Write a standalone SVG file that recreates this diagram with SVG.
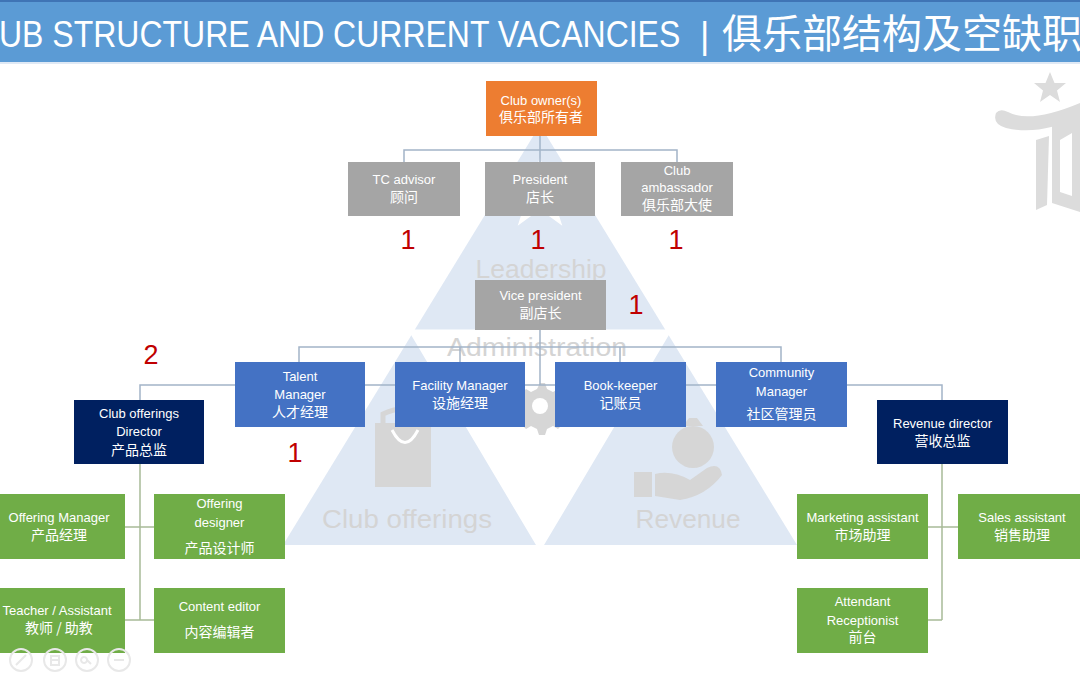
<svg xmlns="http://www.w3.org/2000/svg" width="1080" height="675" viewBox="0 0 1080 675">
<style>
.t{font-family:"Liberation Sans","Noto Sans CJK SC",sans-serif;font-size:13px;fill:#ffffff;text-anchor:middle}
.c{font-family:"Noto Sans CJK SC","Liberation Sans",sans-serif;font-size:14px;fill:#ffffff;text-anchor:middle}
.n{font-family:"Liberation Sans",sans-serif;font-size:27px;fill:#c00000;text-anchor:middle}
.bg{font-family:"Liberation Sans",sans-serif;font-size:26px;fill:#d4d4d4;text-anchor:middle}
.hd{font-family:"Liberation Sans","Noto Sans CJK SC",sans-serif;fill:#ffffff}
.orange{fill:#ed7d31}
.grey{fill:#a5a5a5}
.blue{fill:#4472c4}
.navy{fill:#002060}
.green{fill:#70ad47}
.ln{fill:none;stroke:#a3b4c8;stroke-width:1.5}
.lg{fill:none;stroke:#a8ba98;stroke-width:1.5}
.ic{fill:#d6d6d6}
</style>
<rect width="1080" height="675" fill="#ffffff"/>
<g id="header">
<rect x="0" y="0" width="1080" height="62" fill="#5b9bd5"/>
<rect x="0" y="0" width="1080" height="2" fill="#3f74b5"/>
<rect x="0" y="62" width="1080" height="2" fill="#dfe9f5"/>
<text class="hd" x="-1" y="41" font-size="32" transform="scale(1,1.15)">UB STRUCTURE AND CURRENT VACANCIES</text>
<text class="hd" x="700" y="48" font-size="36">|</text>
<text class="hd" x="722" y="48" font-size="40" style="font-family:'Noto Sans CJK SC',sans-serif">俱乐部结构及空缺职</text>
</g>
<g id="background-pyramid">
<polygon points="540,125 797,545 283,545" fill="#dfe8f4"/>
<polygon points="414,333 666,333 540,545" fill="#ffffff" stroke="#ffffff" stroke-width="7" stroke-linejoin="miter"/>
<polygon points="540,157 548.5,183.3 576.1,183.3 553.8,199.5 562.3,225.7 540,209.5 517.7,225.7 526.2,199.5 503.9,183.3 531.5,183.3" fill="#ffffff"/>
<g class="ic">
<path d="M540,383 l5,0 2,6 6,3 5,-3 4,4 -3,5 2,6 6,2 0,6 -6,2 -2,6 3,5 -4,4 -5,-3 -6,3 -2,6 -6,0 -2,-6 -6,-3 -5,3 -4,-4 3,-5 -2,-6 -6,-2 0,-6 6,-2 2,-6 -3,-5 4,-4 5,3 6,-3 z"/>
</g>
<circle cx="540" cy="406" r="8" fill="#ffffff"/>
<path d="M375,423 L431,423 L431,487 L375,487 Z" class="ic"/>
<path d="M392,430 Q405,455 418,430" fill="none" stroke="#ffffff" stroke-width="3"/>
<path d="M383,423 L383,414 Q403,404 423,414 L423,423" fill="none" stroke="#d6d6d6" stroke-width="5"/>
<circle cx="693" cy="447" r="21" class="ic"/>
<path d="M683,426 L703,426 L697,418 L689,418 Z" class="ic"/>
<path d="M634,472 L652,472 L652,497 L634,497 Z" class="ic"/>
<path d="M655,474 Q672,470 690,480 L707,468 Q720,462 722,475 Q706,496 680,500 L655,496 Z" class="ic"/>
<text class="bg" x="541" y="278" textLength="131" lengthAdjust="spacingAndGlyphs">Leadership</text>
<text class="bg" x="537" y="356" textLength="180" lengthAdjust="spacingAndGlyphs">Administration</text>
<text class="bg" x="407" y="528" textLength="170" lengthAdjust="spacingAndGlyphs">Club offerings</text>
<text class="bg" x="688" y="528" textLength="105" lengthAdjust="spacingAndGlyphs">Revenue</text>
</g>
<g id="connectors">
<path class="ln" d="M540,136 V162 M404,162 V150 H677 V162"/>
<path class="ln" d="M540,330 V385 M299,362 V347 H781 V362 M460,347 V362 M620,347 V362"/>
<path class="ln" d="M140,400 V385 H942 V400"/>
<path class="lg" d="M140,464 V620 M125,527 H154 M125,620 H154"/>
<path class="lg" d="M942,464 V620 M928,527 H958 M928,620 H942"/>
</g>
<g id="club-owners"><rect class="orange" x="486" y="81" width="111" height="55"/><text class="t" x="541" y="104.5">Club owner(s)</text><text class="c" x="541" y="122">俱乐部所有者</text></g>
<g id="tc-advisor"><rect class="grey" x="348" y="162" width="112" height="54"/><text class="t" x="404" y="184">TC advisor</text><text class="c" x="404" y="202">顾问</text></g>
<g id="president"><rect class="grey" x="485" y="162" width="110" height="54"/><text class="t" x="540" y="184">President</text><text class="c" x="540" y="202">店长</text></g>
<g id="club-ambassador"><rect class="grey" x="621" y="162" width="112" height="54"/><text class="t" x="677" y="175">Club</text><text class="t" x="677" y="192">ambassador</text><text class="c" x="677" y="210">俱乐部大使</text></g>
<g id="vice-president"><rect class="grey" x="475" y="280" width="131" height="50"/><text class="t" x="540.5" y="299.5">Vice president</text><text class="c" x="540.5" y="318">副店长</text></g>
<g id="talent-manager"><rect class="blue" x="235" y="362" width="130" height="65"/><text class="t" x="300" y="380.5">Talent</text><text class="t" x="300" y="398.5">Manager</text><text class="c" x="300" y="417">人才经理</text></g>
<g id="facility-manager"><rect class="blue" x="395" y="362" width="130" height="65"/><text class="t" x="460" y="389.5">Facility Manager</text><text class="c" x="460" y="408">设施经理</text></g>
<g id="book-keeper"><rect class="blue" x="555" y="362" width="131" height="65"/><text class="t" x="620.5" y="389.5">Book-keeper</text><text class="c" x="620.5" y="408">记账员</text></g>
<g id="community-manager"><rect class="blue" x="716" y="362" width="131" height="65"/><text class="t" x="781.5" y="376.5">Community</text><text class="t" x="781.5" y="395.5">Manager</text><text class="c" x="781.5" y="419">社区管理员</text></g>
<g id="club-offerings-director"><rect class="navy" x="74" y="400" width="130" height="64"/><text class="t" x="139" y="417.5">Club offerings</text><text class="t" x="139" y="435.5">Director</text><text class="c" x="139" y="455">产品总监</text></g>
<g id="revenue-director"><rect class="navy" x="877" y="400" width="131" height="64"/><text class="t" x="942.5" y="427.5">Revenue director</text><text class="c" x="942.5" y="446">营收总监</text></g>
<g id="offering-manager"><rect class="green" x="-6" y="494" width="131" height="65"/><text class="t" x="59" y="521.5">Offering Manager</text><text class="c" x="59" y="540">产品经理</text></g>
<g id="offering-designer"><rect class="green" x="154" y="494" width="131" height="65"/><text class="t" x="219.5" y="507.5">Offering</text><text class="t" x="219.5" y="526.5">designer</text><text class="c" x="219.5" y="553">产品设计师</text></g>
<g id="teacher-assistant"><rect class="green" x="-6" y="588" width="131" height="65"/><text class="t" x="57" y="614.5">Teacher / Assistant</text><text class="c" x="59" y="633">教师 / 助教</text></g>
<g id="content-editor"><rect class="green" x="154" y="588" width="131" height="65"/><text class="t" x="219.5" y="610.5">Content editor</text><text class="c" x="219.5" y="637">内容编辑者</text></g>
<g id="marketing-assistant"><rect class="green" x="797" y="494" width="131" height="65"/><text class="t" x="862.5" y="521.5">Marketing assistant</text><text class="c" x="862.5" y="540">市场助理</text></g>
<g id="sales-assistant"><rect class="green" x="958" y="494" width="131" height="65"/><text class="t" x="1022" y="521.5">Sales assistant</text><text class="c" x="1022" y="540">销售助理</text></g>
<g id="attendant-receptionist"><rect class="green" x="797" y="588" width="131" height="65"/><text class="t" x="862.5" y="605.5">Attendant</text><text class="t" x="862.5" y="624.5">Receptionist</text><text class="c" x="862.5" y="642">前台</text></g>
<g id="vacancy-counts">
<text class="n" x="408" y="249">1</text>
<text class="n" x="538" y="249">1</text>
<text class="n" x="676" y="249">1</text>
<text class="n" x="636" y="314">1</text>
<text class="n" x="151" y="364">2</text>
<text class="n" x="295" y="462">1</text>
</g>
<g id="logo" fill="#dcdcdc">
<polygon points="1050,72 1054.5,83 1066,83 1057,90.5 1060,102 1050,95 1040,102 1043,90.5 1034,83 1045.5,83"/>
<path d="M996,113 Q1000,108 1008,112 Q1030,124 1080,103 L1080,116 Q1040,136 1006,128 Q992,124 996,113 Z"/>
<path d="M1036,140 L1049,136 L1047,205 L1036,210 Z"/>
<path d="M1052,124 L1080,112 L1080,212 L1052,203 Z"/>
<path d="M1060,140 L1072,133 L1072,196 L1060,192 Z" fill="#ffffff"/>
</g>
<g id="toolbar" fill="none" stroke="#e8e8e8" stroke-width="2">
<circle cx="21" cy="660" r="11"/>
<circle cx="55" cy="660" r="11"/>
<circle cx="87" cy="660" r="11"/>
<circle cx="119" cy="660" r="11"/>
<path d="M16,665 L26,655 M50,660 h10 M51,656 h8 v9 h-8 z M84,657 a3,3 0 1 0 0.1,0 M87,660 l4,4 M114,660 h10"/>
</g>
</svg>
